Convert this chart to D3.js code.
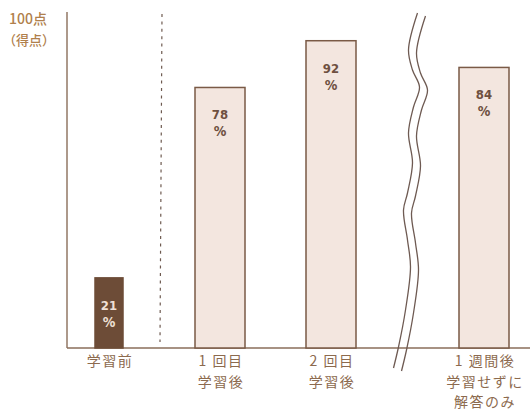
<!DOCTYPE html>
<html><head><meta charset="utf-8">
<script src="https://cdn.jsdelivr.net/npm/d3@7"></script>
<style>body{margin:0;background:#fff}svg{display:block}</style>
</head><body><svg id="c" width="530" height="413"></svg>
<script>
// ---- data ----
const categories = ["学習前", "1回目学習後", "2回目学習後", "1週間後学習せずに解答のみ"];
const categoryLines = [["学習前"], ["1 回目", "学習後"], ["2 回目", "学習後"], ["1 週間後", "学習せずに", "解答のみ"]];
const scores = [21, 78, 92, 84];
const unitLabel = "%";
const yAxisLabels = ["100点", "（得点）"];
const yMax = 100;

// ---- layout ----
const W = 530, H = 413;
const baseY = 348, topY = 14;
const axisX = 67;
const breakGap = 42;
const svg = d3.select("#c");

const y = d3.scaleLinear().domain([0, yMax]).range([baseY, topY]);
const xi = d3.scaleLinear().domain([0, 2]).range([109, 331]);
const xc = i => xi(i) + (i >= 3 ? breakGap : 0);
const barW = i => i === 0 ? 28 : 50;

const ink = "#7a5a46";
const textCol = "#8c6a4e";

// y axis line
svg.append("line").attr("x1", axisX).attr("x2", axisX)
  .attr("y1", y(yMax) - 2).attr("y2", baseY)
  .attr("stroke", "#8a6e5a").attr("stroke-width", 1.4);

// y label
svg.selectAll("text.ylab").data(yAxisLabels).join("text")
  .attr("class", "ylab")
  .attr("x", (d, i) => i ? 3 : 9).attr("y", (d, i) => 24 + i * 21)
  .attr("font-family", "Noto Sans CJK JP").attr("font-size", (d, i) => i ? 13 : 14).attr("font-weight", 500)
  .attr("fill", "#b0804c").text(d => d);

// dashed separator
svg.append("line")
  .attr("x1", 162).attr("x2", 160)
  .attr("y1", y(yMax)).attr("y2", baseY - 6)
  .attr("stroke", "#6e5a50").attr("stroke-width", 1.2)
  .attr("stroke-dasharray", "3,4.4");

// baseline
svg.append("line").attr("x1", axisX).attr("x2", W)
  .attr("y1", baseY).attr("y2", baseY)
  .attr("stroke", "#8a6e5a").attr("stroke-width", 1.4);

// bars
const g = svg.selectAll("g.bar").data(scores).join("g").attr("class", "bar");
g.append("rect")
  .attr("x", (d, i) => xc(i) - barW(i) / 2)
  .attr("y", d => y(d))
  .attr("width", (d, i) => barW(i))
  .attr("height", d => baseY - y(d))
  .attr("fill", (d, i) => i === 0 ? "#6d4c37" : "#f3e6df")
  .attr("stroke", (d, i) => i === 0 ? "#6d4c37" : ink)
  .attr("stroke-width", 1.5);

g.append("text")
  .attr("x", (d, i) => xc(i))
  .attr("y", d => y(d) + 32)
  .attr("text-anchor", "middle")
  .attr("font-family", "DejaVu Sans Condensed, DejaVu Sans").attr("font-size", 13).attr("font-weight", "bold")
  .attr("fill", (d, i) => i === 0 ? "#efe0d6" : "#6e5040")
  .text(d => d);
g.append("text")
  .attr("x", (d, i) => xc(i))
  .attr("y", d => y(d) + 49)
  .attr("text-anchor", "middle")
  .attr("font-family", "DejaVu Sans Condensed, DejaVu Sans").attr("font-size", 14).attr("font-weight", "bold")
  .attr("fill", (d, i) => i === 0 ? "#efe0d6" : "#6e5040")
  .text(unitLabel);

// category labels
categoryLines.forEach((lines, i) => {
  svg.selectAll(null).data(lines).join("text")
    .attr("x", xc(i) + 1)
    .attr("y", (d, k) => 366 + k * 20.5)
    .attr("text-anchor", "middle")
    .attr("font-family", "Noto Sans CJK JP").attr("font-size", 14)
    .attr("letter-spacing", 1.5)
    .attr("fill", textCol)
    .text(d => d);
});

// axis break symbol (decoration)
const bx = (xc(2) + xc(3)) / 2;
const wave = [[10,13],[1,50],[5,70],[12,87],[6,107],[1,133],[5,163],[0,193],[-4,210],[0,240],[3,267],[-2,310],[-9,347],[-14,368]];
const line = d3.line().x(d => bx + d[0]).y(d => d[1]).curve(d3.curveCatmullRom);
[0, 8].forEach((off, k) => {
  svg.append("path")
    .attr("d", line(wave.map(p => [p[0] + off, p[1] + (k ? 3 : 0)])))
    .attr("fill", "none").attr("stroke", "#6e5a52").attr("stroke-width", 1.3);
});
</script>
</body></html>
